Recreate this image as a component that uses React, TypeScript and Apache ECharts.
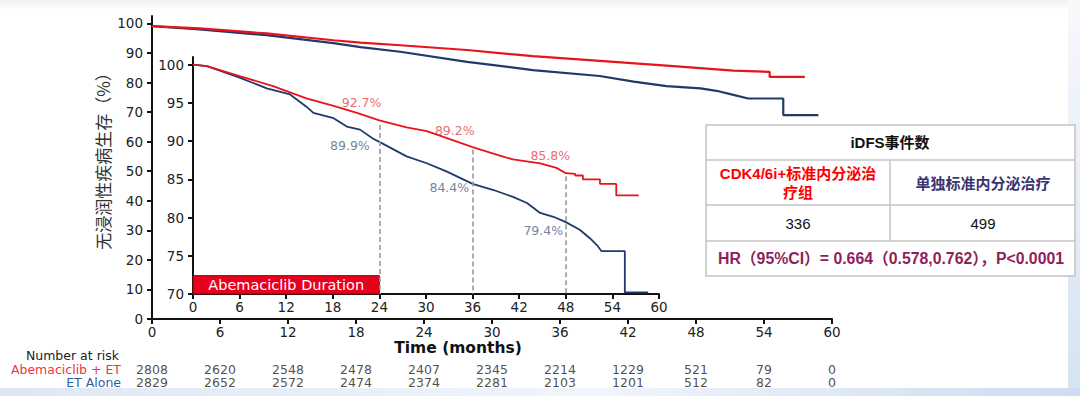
import React, { useEffect, useRef } from "react";
import * as echarts from "echarts";

// ---------------- data ----------------
const tickMonths = [0, 6, 12, 18, 24, 30, 36, 42, 48, 54, 60];
const mainYTicks = [0, 10, 20, 30, 40, 50, 60, 70, 80, 90, 100];
const insetYTicks = [70, 75, 80, 85, 90, 95, 100];

// overall curves (main plot), [month, %]
const mainRed: [number, number][] = [
  [0, 99.1], [4.2, 98.3], [10.1, 96.6], [16, 94.3], [18.4, 93.5], [21.9, 92.6],
  [27.8, 91.0], [33.6, 88.9], [39.5, 87.3], [45.4, 85.7], [51.3, 84.0],
  [54.5, 83.6], [54.5, 81.9], [57.6, 81.9],
];
const mainBlue: [number, number][] = [
  [0, 99.1], [4.2, 98.0], [10.1, 96.0], [16, 93.3], [18.4, 92.0], [21.9, 90.4],
  [27.8, 87.0], [33.6, 84.2], [39.5, 82.2], [42.5, 80.3], [45.4, 78.8],
  [48.4, 78.0], [49.8, 77.2], [51.3, 75.8], [52.6, 74.6], [55.7, 74.6],
  [55.7, 69.0], [58.8, 69.0],
];

// zoomed curves (inset), [month, %]
const insetRed: [number, number][] = [
  [0, 100], [1.8, 99.8], [6, 98.5], [10.3, 97.2], [14.6, 95.6], [18.1, 94.6],
  [21.1, 93.7], [24, 92.7], [27.5, 91.8], [30.1, 91.3], [32.7, 90.4], [36, 89.2],
  [39.5, 88.1], [41.2, 87.6], [44.7, 87.1], [46.8, 86.5], [48, 85.8], [49.2, 85.7],
  [49.2, 85.5], [50.2, 85.5], [50.2, 85.0], [52.4, 85.0], [52.4, 84.4], [54.5, 84.4],
  [54.5, 82.9], [57.4, 82.9],
];
const insetBlue: [number, number][] = [
  [0, 100], [1.8, 99.8], [6, 98.3], [9.5, 96.9], [12.5, 96.1], [14.6, 94.5],
  [15.5, 93.7], [18.1, 93.0], [19.8, 91.9], [21.5, 91.5], [23.2, 90.3], [24, 89.9],
  [27.5, 88.0], [30.1, 87.1], [32.7, 86.0], [36, 84.4], [38.7, 83.6], [41.2, 82.7],
  [43.0, 81.9], [44.7, 80.6], [46.4, 80.1], [48, 79.4], [49.8, 78.4], [51.1, 77.3],
  [52.0, 76.4], [52.6, 75.6], [55.6, 75.6], [55.6, 70.2], [58.6, 70.2],
];

const milestoneMonths = [24, 36, 48];
const milestoneTop = [92.1, 88.9, 85.4];
const durationEnd = 24;

const redPctText = ["92.7%", "89.2%", "85.8%"];
const redPctAt: [number, number][] = [[21.7, 95.1], [33.7, 91.35], [46.0, 88.1]];
const bluePctText = ["89.9%", "84.4%", "79.4%"];
const bluePctAt: [number, number][] = [[20.2, 89.4], [33.0, 83.9], [45.1, 78.25]];

const riskGroups = ["Abemaciclib + ET", "ET Alone"];
const riskAbema = [2808, 2620, 2548, 2478, 2407, 2345, 2214, 1229, 521, 79, 0];
const riskET = [2829, 2652, 2572, 2474, 2374, 2281, 2103, 1201, 512, 82, 0];

const eventGroups = ["CDK4/6i+标准内分泌治\n疗组", "单独标准内分泌治疗"];
const eventCounts = [336, 499];
const hrText = "HR（95%CI）= 0.664（0.578,0.762），P<0.0001";

// ---------------- styles ----------------
const RED = "#e8141c";
const BLUE = "#1f3a6b";
const LATIN = "'DejaVu Sans', sans-serif";
const TABLE_FONT = "'Liberation Sans', 'Noto Sans CJK SC', sans-serif";

const axisLineStyle = { show: true, lineStyle: { color: "#111", width: 2 } };
const axisTickStyle = { show: true, length: 5, lineStyle: { color: "#111", width: 2 } };
const axisLabelStyle = { color: "#222", fontSize: 13.5, fontFamily: LATIN };

function txt(x: number, y: number, text: string, style: any, extra: any = {}) {
  return {
    type: "text",
    x,
    y,
    ...extra,
    style: {
      text,
      align: "center",
      textAlign: "center",
      verticalAlign: "middle",
      textVerticalAlign: "middle",
      ...style,
    },
  };
}

export default function App() {
  const ref = useRef<HTMLDivElement>(null);

  useEffect(() => {
    if (!ref.current) return;
    const chart = echarts.init(ref.current, undefined, { renderer: "svg" });

    const tableX0 = 706, tableX1 = 1075, tableY0 = 125, tableY1 = 276, colX = 890;
    const rowY = [160, 205, 241];
    const grey = "#c4c4c4";

    const graphic: any[] = [
      // slide background bands
      {
        type: "rect", z: -10, shape: { x: 0, y: 0, width: 1080, height: 10 },
        style: { fill: new echarts.graphic.LinearGradient(0, 0, 0, 1, [
          { offset: 0, color: "#eef0f3" }, { offset: 1, color: "#ffffff" }]) },
      },
      {
        type: "rect", z: -10, shape: { x: 0, y: 388, width: 1080, height: 8 },
        style: { fill: new echarts.graphic.LinearGradient(0, 0, 1, 0, [
          { offset: 0, color: "#dde7f4" }, { offset: 0.55, color: "#f1f5fb" }, { offset: 1, color: "#cddcf0" }]) },
      },
      {
        type: "rect", z: -10, shape: { x: 1068, y: 0, width: 12, height: 388 },
        style: { fill: new echarts.graphic.LinearGradient(0, 0, 0, 1, [
          { offset: 0, color: "#f7f9fc" }, { offset: 1, color: "#d6e3f3" }]) },
      },
      // axis titles
      txt(102, 157, "无浸润性疾病生存（%）", { fill: "#333", fontSize: 17, fontFamily: "'Noto Sans CJK SC', sans-serif" }, { rotation: Math.PI / 2 }),
      txt(458, 348, "Time (months)", { fill: "#111", fontSize: 15.5, fontWeight: "bold", fontFamily: LATIN }),
      txt(119, 355, "Number at risk", { fill: "#222", fontSize: 12.5, fontFamily: LATIN, align: "right", textAlign: "right" }),
      // table
      {
        type: "rect", shape: { x: tableX0, y: tableY0, width: tableX1 - tableX0, height: tableY1 - tableY0 },
        style: { fill: "#fff", stroke: grey, lineWidth: 1.5 },
      },
      ...rowY.map((y) => ({
        type: "line", shape: { x1: tableX0, y1: y, x2: tableX1, y2: y },
        style: { stroke: grey, lineWidth: 1.5 },
      })),
      {
        type: "line", shape: { x1: colX, y1: rowY[0], x2: colX, y2: rowY[2] },
        style: { stroke: grey, lineWidth: 1.5 },
      },
      txt(890, 142.5, "iDFS事件数", { fill: "#111", fontSize: 15, fontWeight: "bold", fontFamily: TABLE_FONT }),
      txt(798, 182.5, eventGroups[0], { fill: "#ff0000", fontSize: 15, fontWeight: "bold", fontFamily: TABLE_FONT, lineHeight: 19 }),
      txt(983, 183, eventGroups[1], { fill: "#3b3470", fontSize: 15, fontWeight: "bold", fontFamily: TABLE_FONT }),
      txt(798, 223, String(eventCounts[0]), { fill: "#111", fontSize: 15, fontFamily: TABLE_FONT }),
      txt(983, 223, String(eventCounts[1]), { fill: "#111", fontSize: 15, fontFamily: TABLE_FONT }),
      txt(891, 258.5, hrText, { fill: "#8e1f5c", fontSize: 15.8, fontWeight: "bold", fontFamily: TABLE_FONT }),
    ];

    const pctSeries = (texts: string[], at: [number, number][], color: string) => ({
      type: "scatter",
      xAxisIndex: 1,
      yAxisIndex: 1,
      symbolSize: 0,
      silent: true,
      z: 5,
      data: at.map((p, i) => ({ value: p, name: texts[i] })),
      label: {
        show: true,
        position: "inside",
        formatter: (p: any) => p.name,
        color,
        fontSize: 12.5,
        fontFamily: LATIN,
      },
    });

    const riskSeries = (counts: number[], row: number) => ({
      type: "scatter",
      xAxisIndex: 2,
      yAxisIndex: 2,
      symbolSize: 0,
      silent: true,
      data: tickMonths.map((m, i) => [m, row, counts[i]]),
      label: {
        show: true,
        position: "inside",
        formatter: (p: any) => String(p.value[2]),
        color: "#222",
        fontSize: 12.5,
        fontFamily: LATIN,
      },
    });

    chart.setOption({
      animation: false,
      backgroundColor: "#ffffff",
      grid: [
        { left: 152, top: 16, width: 680, height: 303 },
        { left: 193, top: 57, width: 466, height: 237 },
        { left: 152, top: 363, width: 680, height: 26 },
      ],
      xAxis: [
        {
          gridIndex: 0, type: "value", min: 0, max: 60, interval: 6,
          axisLine: axisLineStyle, axisTick: axisTickStyle,
          axisLabel: { ...axisLabelStyle, margin: 6 }, splitLine: { show: false },
        },
        {
          gridIndex: 1, type: "value", min: 0, max: 60, interval: 6,
          axisLine: axisLineStyle, axisTick: axisTickStyle,
          axisLabel: { ...axisLabelStyle, margin: 6 }, splitLine: { show: false },
        },
        { gridIndex: 2, type: "value", min: 0, max: 60, show: false },
      ],
      yAxis: [
        {
          gridIndex: 0, type: "value", min: 0, max: 102.5,
          axisLine: axisLineStyle,
          axisTick: { ...axisTickStyle, customValues: mainYTicks },
          axisLabel: { ...axisLabelStyle, margin: 9, customValues: mainYTicks },
          splitLine: { show: false },
        },
        {
          gridIndex: 1, type: "value", min: 70, max: 101,
          axisLine: axisLineStyle,
          axisTick: { ...axisTickStyle, customValues: insetYTicks },
          axisLabel: { ...axisLabelStyle, margin: 9, customValues: insetYTicks },
          splitLine: { show: false },
        },
        {
          gridIndex: 2, type: "category", data: riskGroups, inverse: true,
          axisLine: { show: false }, axisTick: { show: false },
          axisLabel: {
            interval: 0, margin: 31, fontSize: 12.5, fontFamily: LATIN,
            color: (_v: any, i: number) => (i === 0 ? "#e8393e" : "#2f5f9e"),
          },
        },
      ],
      series: [
        {
          type: "line", xAxisIndex: 0, yAxisIndex: 0, data: mainBlue, showSymbol: false,
          lineStyle: { color: BLUE, width: 2.2 }, silent: true,
        },
        {
          type: "line", xAxisIndex: 0, yAxisIndex: 0, data: mainRed, showSymbol: false,
          lineStyle: { color: RED, width: 2.2 }, silent: true,
        },
        {
          type: "line", xAxisIndex: 1, yAxisIndex: 1, data: insetBlue, showSymbol: false,
          lineStyle: { color: BLUE, width: 1.8 }, silent: true,
          markArea: {
            silent: true,
            itemStyle: { color: "#e8001c", borderColor: "#7a0d12", borderWidth: 1 },
            label: { show: true, position: "inside", color: "#fff", fontSize: 14.5, fontFamily: LATIN },
            data: [[{ coord: [0, 70], name: "Abemaciclib Duration" }, { coord: [durationEnd, 72.4] }]],
          },
        },
        {
          type: "line", xAxisIndex: 1, yAxisIndex: 1, data: insetRed, showSymbol: false,
          lineStyle: { color: RED, width: 1.8 }, silent: true,
          markLine: {
            silent: true, symbol: ["none", "none"],
            lineStyle: { type: [5, 3], color: "#9b9b9b", width: 1.6 },
            label: { show: false },
            data: milestoneMonths.map((m, i) => [{ coord: [m, milestoneTop[i]] }, { coord: [m, 70] }]),
          },
        },
        pctSeries(redPctText, redPctAt, "#e24848"),
        pctSeries(bluePctText, bluePctAt, "#4d6186"),
        riskSeries(riskAbema, 0),
        riskSeries(riskET, 1),
      ],
      graphic,
    });

    return () => chart.dispose();
  }, []);

  return (
    <div
      ref={ref}
      style={{ position: "fixed", left: 0, top: 0, width: 1080, height: 396, background: "#fff" }}
    />
  );
}
